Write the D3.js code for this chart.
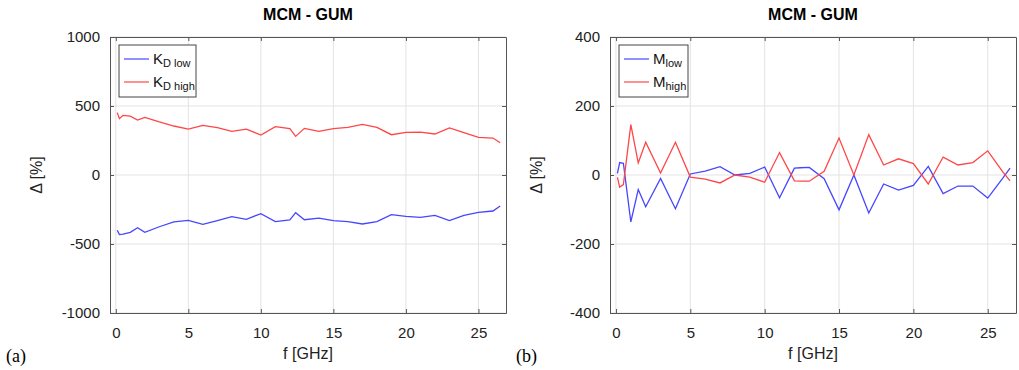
<!DOCTYPE html>
<html>
<head>
<meta charset="utf-8">
<script src="https://cdn.jsdelivr.net/npm/d3@7"></script>
<style>
  body { margin: 0; background: #fff; }
  svg { font-family: "Liberation Sans", Arial, sans-serif; }
</style>
</head>
<body>
<svg id="chart" width="1019" height="370"></svg>
<script>
// frequency points [GHz]
const freq = [0.1, 0.25, 0.5, 1, 1.5, 2, 3, 4, 5, 6, 7, 8, 9, 10, 11, 12, 12.4, 13, 14, 15,
  16, 17, 18, 19, 20, 21, 22, 23, 24, 25, 26, 26.5];

// (a) K_D low / high, MCM - GUM [%]
const kdLow = [-400, -432, -428, -415, -382, -415, -375, -340, -329, -357, -330, -302, -321, -280, -338, -326,
  -273, -324, -312, -331, -338, -355, -338, -287, -300, -307, -292, -331, -292, -271, -261, -225];
const kdHigh = [452, 408, 432, 427, 398, 418, 385, 355, 333, 360, 343, 316, 333, 290, 350, 336,
  280, 338, 316, 336, 345, 367, 345, 292, 309, 311, 297, 341, 307, 273, 268, 234];

// (b) M low / high, MCM - GUM [%]
const mLow = [5, 36, 34, -136, -42, -92, -10, -98, 3, 11, 24, 0, 5, 23, -66, 20,
  21, 22, -11, -101, 0, -110, -26, -44, -30, 25, -54, -32, -32, -67, -10, 20];
const mHigh = [-7, -35, -28, 146, 35, 95, 6, 95, -6, -12, -23, 0, -6, -21, 65, -17,
  -18, -18, 11, 107, 0, 117, 29, 47, 33, -26, 52, 29, 36, 70, 10, -17];

const xTicks = [0, 5, 10, 15, 20, 25];
const yTicksA = [-1000, -500, 0, 500, 1000];
const yTicksB = [-400, -200, 0, 200, 400];

const svg = d3.select('#chart');
const blue = '#4646ff', red = '#ff4646';

function panel(opt) {
  const x = d3.scaleLinear().domain([-0.4, 26.9]).range([opt.left, opt.right]);
  const y = d3.scaleLinear().domain(opt.yDomain).range([313, 37]);
  const g = svg.append('g');

  // grid
  g.selectAll('.gx').data(xTicks).enter().append('line')
    .attr('x1', d => x(d)).attr('x2', d => x(d)).attr('y1', 37).attr('y2', 313)
    .attr('stroke', '#e3e3e3').attr('stroke-width', 1);
  g.selectAll('.gy').data(opt.yTicks).enter().append('line')
    .attr('x1', opt.left).attr('x2', opt.right).attr('y1', d => y(d)).attr('y2', d => y(d))
    .attr('stroke', '#e3e3e3').attr('stroke-width', 1);

  // axes (box with inner ticks on all sides)
  const ax = (axis, tr) => g.append('g').attr('transform', tr).call(axis)
    .call(a => a.select('.domain').attr('stroke', '#555'))
    .call(a => a.selectAll('.tick line').attr('stroke', '#555'))
    .call(a => a.selectAll('text').attr('fill', '#222').style('font-size', '15px'));
  const fmt = d => String(d);
  ax(d3.axisBottom(x).tickValues(xTicks).tickSize(-4).tickSizeOuter(0).tickPadding(14).tickFormat(fmt), 'translate(0,313)');
  ax(d3.axisTop(x).tickValues(xTicks).tickSize(-4).tickSizeOuter(0).tickFormat(''), 'translate(0,37)');
  ax(d3.axisLeft(y).tickValues(opt.yTicks).tickSize(-4).tickSizeOuter(0).tickPadding(10).tickFormat(fmt), `translate(${opt.left},0)`);
  ax(d3.axisRight(y).tickValues(opt.yTicks).tickSize(-4).tickSizeOuter(0).tickFormat(''), `translate(${opt.right},0)`);

  // lines
  const line = d3.line().x((d, i) => x(freq[i])).y(d => y(d));
  g.append('path').datum(opt.low).attr('d', line)
    .attr('fill', 'none').attr('stroke', blue).attr('stroke-width', 1.3);
  g.append('path').datum(opt.high).attr('d', line)
    .attr('fill', 'none').attr('stroke', red).attr('stroke-width', 1.3);

  // title and labels
  const cx = (opt.left + opt.right) / 2;
  g.append('text').attr('x', cx).attr('y', 20).attr('text-anchor', 'middle')
    .style('font-size', '16px').style('font-weight', 'bold').text('MCM - GUM');
  g.append('text').attr('x', cx).attr('y', 359).attr('text-anchor', 'middle')
    .style('font-size', '16px').attr('fill', '#222').text('f [GHz]');
  g.append('text').attr('transform', `translate(${opt.left - 68},175) rotate(-90)`)
    .attr('text-anchor', 'middle').style('font-size', '16px').attr('fill', '#222').text('Δ [%]');
  g.append('text').attr('x', opt.tagX).attr('y', 362)
    .style('font-family', '"Liberation Serif", "Times New Roman", serif').style('font-size', '18px')
    .text(opt.tag);

  // legend
  const lg = g.append('g').attr('transform', `translate(${opt.left + 9},45)`);
  lg.append('rect').attr('width', opt.legendW).attr('height', 52)
    .attr('fill', '#fff').attr('stroke', '#444').attr('stroke-width', 1);
  [[blue, opt.labels[0]], [red, opt.labels[1]]].forEach(([c, lab], i) => {
    const yy = 14 + i * 23;
    lg.append('line').attr('x1', 5).attr('x2', 30).attr('y1', yy).attr('y2', yy)
      .attr('stroke', c).attr('stroke-width', 1.2);
    const t = lg.append('text').attr('x', 34).attr('y', yy + 5).style('font-size', '15px').attr('fill', '#111');
    t.append('tspan').text(lab[0]);
    t.append('tspan').attr('dy', 3).style('font-size', '11px').text(lab[1]);
  });
}

panel({ left: 110, right: 506, yDomain: [-1000, 1000], yTicks: yTicksA, low: kdLow, high: kdHigh,
  tag: '(a)', tagX: 6, legendW: 77, labels: [['K', 'D low'], ['K', 'D high']] });
panel({ left: 610, right: 1016, yDomain: [-400, 400], yTicks: yTicksB, low: mLow, high: mHigh,
  tag: '(b)', tagX: 516, legendW: 69, labels: [['M', 'low'], ['M', 'high']] });
</script>
</body>
</html>
